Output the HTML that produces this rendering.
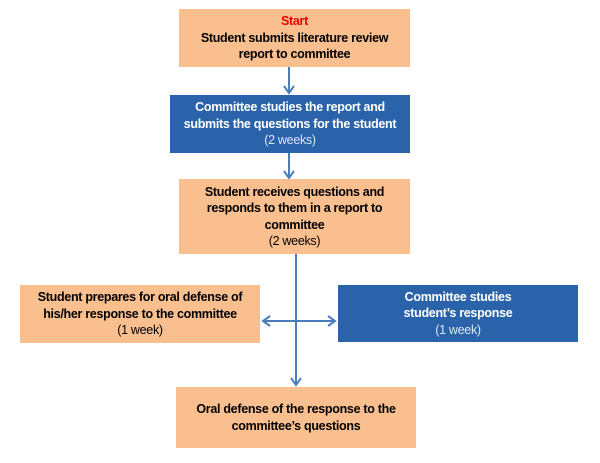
<!DOCTYPE html>
<html><head><style>
body{margin:0;width:600px;height:463px;background:#fff;position:relative;overflow:hidden;font-family:"Liberation Sans",sans-serif;}
.b{position:absolute;display:flex;flex-direction:column;justify-content:center;align-items:center;text-align:center;font-size:12.5px;font-weight:bold;line-height:16.5px;letter-spacing:-0.3px;box-sizing:border-box;white-space:nowrap;}
.o{background:#F9BF8F;color:#000;}
.u{background:#2A63AA;color:#fff;}
.w{font-weight:normal;}
.u .w{color:#dde6f4;}
svg{position:absolute;left:0;top:0;}
</style></head><body>
<svg width="600" height="463">
<g stroke="#4A7EBB" stroke-width="2" fill="none">
<line x1="289" y1="67" x2="289" y2="92"/>
<line x1="289" y1="153" x2="289" y2="177"/>
<line x1="296" y1="254" x2="296" y2="384"/>
<line x1="263" y1="321" x2="335" y2="321"/>
<polyline points="284,86 289,93 294,86"/>
<polyline points="284,171 289,178 294,171"/>
<polyline points="291,378 296,385 301,378"/>
<polyline points="270,316 263,321 270,326"/>
<polyline points="328,316 335,321 328,326"/>
</g>
</svg>
<div class="b o" style="left:179px;top:9px;width:231px;height:58px;"><div style="color:#e00">Start</div><div>Student submits literature review<br>report to committee</div></div>
<div class="b u" style="left:170px;top:95px;width:240px;height:58px;"><div>Committee studies the report and<br>submits the questions for the student</div><div class="w">(2 weeks)</div></div>
<div class="b o" style="left:179px;top:179px;width:231px;height:75px;"><div>Student receives questions and<br>responds to them in a report to<br>committee</div><div class="w">(2 weeks)</div></div>
<div class="b o" style="left:20px;top:285px;width:240px;height:58px;"><div>Student prepares for oral defense of<br>his/her response to the committee</div><div class="w">(1 week)</div></div>
<div class="b u" style="left:338px;top:285px;width:240px;height:57px;"><div>Committee studies<br>student’s response</div><div class="w">(1 week)</div></div>
<div class="b o" style="left:176px;top:387px;width:240px;height:61px;"><div>Oral defense of the response to the<br>committee’s questions</div></div>
</body></html>
